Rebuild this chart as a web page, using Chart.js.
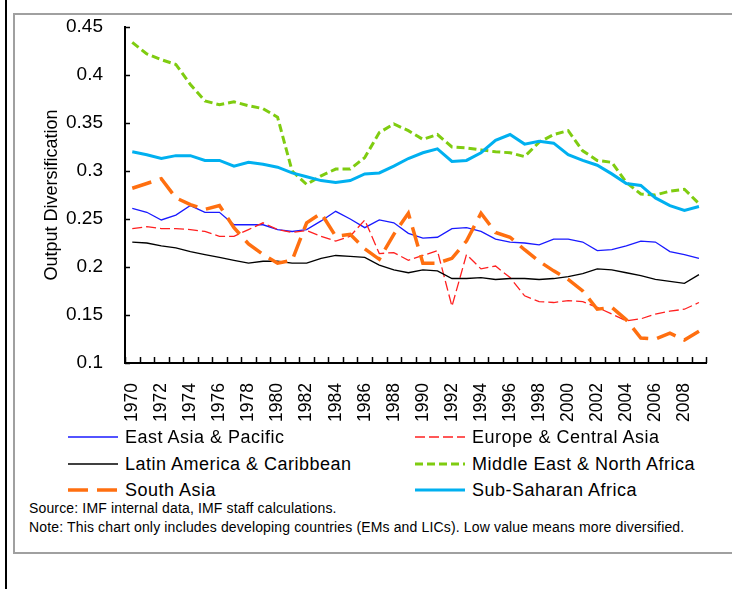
<!DOCTYPE html>
<html>
<head>
<meta charset="utf-8">
<script src="https://cdn.jsdelivr.net/npm/chart.js"></script>
<style>
  html, body { margin: 0; padding: 0; background: #fff; }
  body { width: 732px; height: 589px; position: relative; overflow: hidden; font-family: "Liberation Sans", Arial, sans-serif; }
  #leftRule { position: absolute; left: 5px; top: 0; width: 2px; height: 589px; background: #000; }
  #frame { position: absolute; left: 13px; top: 13px; width: 740px; height: 537px; border: 2px solid #a0a0a0; }
  #chartBox { position: absolute; left: 0; top: 0; width: 732px; height: 430px; }
  .leg { position: absolute; font-size: 18px; letter-spacing: 0.5px; color: #000; white-space: nowrap; line-height: 20px; }
  .leg svg { position: absolute; left: 0; top: 0; }
  .leg span { position: absolute; top: 0; }
  .note { position: absolute; left: 29px; font-size: 14px; letter-spacing: 0.15px; color: #000; white-space: nowrap; }
</style>
</head>
<body>
<div id="leftRule"></div>
<div id="frame"></div>
<div id="chartBox"><canvas id="diversificationChart"></canvas></div>
<div id="legend"></div>
<div class="note" style="top:500px">Source: IMF internal data, IMF staff calculations.</div>
<div class="note" style="top:519px">Note: This chart only includes developing countries (EMs and LICs). Low value means more diversified.</div>
<script>
// Années
const years = ['1970','1971','1972','1973','1974','1975','1976','1977','1978','1979',
               '1980','1981','1982','1983','1984','1985','1986','1987','1988','1989',
               '1990','1991','1992','1993','1994','1995','1996','1997','1998','1999',
               '2000','2001','2002','2003','2004','2005','2006','2007','2008','2009'];

const yTicks = [0.1, 0.15, 0.2, 0.25, 0.3, 0.35, 0.4, 0.45];

// Séries
const eastAsia = [0.261,0.257,0.249,0.254,0.264,0.257,0.257,0.244,0.244,0.244,
                  0.239,0.237,0.239,0.248,0.258,0.250,0.241,0.249,0.246,0.235,
                  0.230,0.231,0.240,0.241,0.237,0.229,0.226,0.225,0.223,0.229,
                  0.229,0.226,0.217,0.218,0.222,0.227,0.226,0.216,0.213,0.209];
const europe = [0.240,0.242,0.240,0.240,0.239,0.237,0.232,0.232,0.239,0.246,
                0.239,0.236,0.238,0.232,0.227,0.232,0.249,0.214,0.215,0.207,
                0.212,0.217,0.159,0.213,0.198,0.201,0.189,0.170,0.164,0.163,
                0.165,0.164,0.158,0.151,0.144,0.146,0.151,0.154,0.156,0.163];
const latinAmerica = [0.226,0.225,0.222,0.220,0.216,0.213,0.210,0.207,0.204,0.206,
                      0.206,0.204,0.204,0.209,0.212,0.211,0.210,0.202,0.197,0.194,
                      0.197,0.196,0.188,0.188,0.189,0.187,0.188,0.188,0.187,0.188,
                      0.190,0.193,0.198,0.197,0.194,0.191,0.187,0.185,0.183,0.192];
const middleEast = [0.434,0.422,0.416,0.411,0.390,0.373,0.369,0.372,0.368,0.365,
                    0.356,0.300,0.286,0.295,0.302,0.302,0.314,0.340,0.349,0.342,
                    0.333,0.338,0.325,0.324,0.322,0.320,0.319,0.315,0.330,0.338,
                    0.342,0.321,0.311,0.309,0.288,0.276,0.275,0.279,0.281,0.266];
const southAsia = [0.282,0.287,0.292,0.272,0.265,0.260,0.264,0.241,0.224,0.213,
                   0.204,0.207,0.246,0.256,0.232,0.234,0.219,0.208,0.234,0.256,
                   0.204,0.204,0.209,0.227,0.256,0.236,0.231,0.218,0.206,0.196,
                   0.187,0.175,0.156,0.158,0.145,0.126,0.125,0.131,0.124,0.133];
const subSaharan = [0.320,0.317,0.313,0.316,0.316,0.311,0.311,0.305,0.309,0.307,
                    0.304,0.298,0.294,0.290,0.288,0.290,0.297,0.298,0.305,0.313,
                    0.319,0.323,0.310,0.311,0.319,0.332,0.338,0.328,0.331,0.329,
                    0.317,0.311,0.306,0.297,0.287,0.285,0.272,0.264,0.259,0.263];

const datasets = [
    { label: 'East Asia & Pacific', data: eastAsia, borderColor: '#1a1aff', borderWidth: 1.3, borderDash: [], order: 6 },
    { label: 'Europe & Central Asia', data: europe, borderColor: '#ff2020', borderWidth: 1.3, borderDash: [10, 4], order: 5 },
    { label: 'Latin America & Caribbean', data: latinAmerica, borderColor: '#000000', borderWidth: 1.3, borderDash: [], order: 4 },
    { label: 'Middle East & North Africa', data: middleEast, borderColor: '#7fcc10', borderWidth: 3, borderDash: [8, 4], order: 3 },
    { label: 'South Asia', data: southAsia, borderColor: '#ff6f10', borderWidth: 3.5, borderDash: [20, 9], order: 2 },
    { label: 'Sub-Saharan Africa', data: subSaharan, borderColor: '#00b0f0', borderWidth: 3, borderDash: [], order: 1 }
];
datasets.forEach(d => { d.fill = false; d.tension = 0; d.pointRadius = 0; d.borderCapStyle = 'butt'; });

// Petites graduations vers l'intérieur (style Excel)
const innerTicks = {
    id: 'innerTicks',
    afterDraw(chart) {
        const ctx = chart.ctx;
        const x = chart.scales.x, y = chart.scales.y;
        const area = chart.chartArea;
        ctx.save();
        ctx.strokeStyle = '#000';
        ctx.lineWidth = 1.5;
        const x0 = x.getPixelForValue(0);
        const step = x.getPixelForValue(1) - x0;
        for (let i = 0; i <= years.length; i++) {
            const px = Math.round(x0 + (i - 0.5) * step) + 0.5;
            ctx.beginPath();
            ctx.moveTo(px, area.bottom);
            ctx.lineTo(px, area.bottom - 6);
            ctx.stroke();
        }
        yTicks.forEach(v => {
            const py = Math.round(y.getPixelForValue(v)) + 0.5;
            ctx.beginPath();
            ctx.moveTo(area.left, py);
            ctx.lineTo(area.left + 5, py);
            ctx.stroke();
        });
        ctx.restore();
    }
};

const ctx = document.getElementById('diversificationChart').getContext('2d');
const chart = new Chart(ctx, {
    type: 'line',
    data: { labels: years, datasets: datasets },
    options: {
        responsive: true,
        maintainAspectRatio: false,
        animation: false,
        layout: { padding: { top: 27, left: 37, right: 3, bottom: 7 } },
        plugins: { legend: { display: false }, tooltip: { enabled: false } },
        scales: {
            x: {
                offset: true,
                grid: { display: false, offset: true },
                border: { display: true, color: '#000', width: 2 },
                afterFit: s => { s.height = 60; },
                ticks: {
                    autoSkip: false, minRotation: 90, maxRotation: 90, padding: 12,
                    color: '#000', font: { family: 'Liberation Sans', size: 17.5 },
                    callback: function(val, i) { return i % 2 === 0 ? years[i] : ''; }
                }
            },
            y: {
                min: 0.1, max: 0.45,
                grid: { display: false },
                border: { display: true, color: '#000', width: 2 },
                afterFit: s => { s.width = 88; },
                afterBuildTicks: s => { s.ticks = yTicks.map(v => ({ value: v })); },
                ticks: {
                    padding: 14, color: '#000', font: { family: 'Liberation Sans', size: 19 },
                    callback: v => String(parseFloat(v.toFixed(2)))
                },
                title: { display: true, text: 'Output Diversification', color: '#000', padding: 4,
                         font: { family: 'Liberation Sans', size: 18 } }
            }
        }
    },
    plugins: [innerTicks]
});

// Légende sur deux colonnes
const legendPos = [[68, 427], [415, 427], [68, 454], [415, 454], [68, 480], [415, 480]];
const legend = document.getElementById('legend');
chart.data.datasets.forEach((d, i) => {
    const el = document.createElement('div');
    el.className = 'leg';
    el.style.left = legendPos[i][0] + 'px';
    el.style.top = legendPos[i][1] + 'px';
    el.innerHTML = '<svg width="52" height="20"><line x1="0" y1="10" x2="50" y2="10" stroke="' + d.borderColor +
        '" stroke-width="' + d.borderWidth + '" stroke-dasharray="' + (d.borderDash.length ? d.borderDash.join(',') : 'none') +
        '"/></svg><span style="left:57px">' + d.label + '</span>';
    legend.appendChild(el);
});
</script>
</body>
</html>
